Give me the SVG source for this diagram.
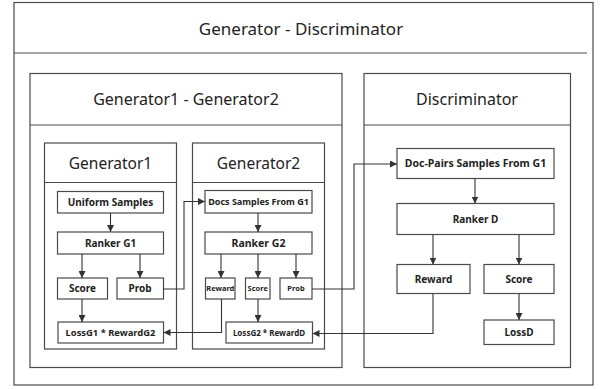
<svg xmlns="http://www.w3.org/2000/svg" width="602" height="389" viewBox="0 0 602 389">
<style>
.box{fill:#fff;stroke:#4a4a4a;stroke-width:1.2}
.ln{fill:none;stroke:#4a4a4a;stroke-width:1.2}
.con{fill:none;stroke:#333;stroke-width:1.1}
.h1{font-family:"Noto Sans","Open Sans",sans-serif;font-size:17px;fill:#222;text-anchor:middle}
.h2{font-family:"Noto Sans","Open Sans",sans-serif;font-size:16px;fill:#222;text-anchor:middle}
.h3{font-family:"Noto Sans","Open Sans",sans-serif;font-size:15.5px;fill:#222;text-anchor:middle}
.t{font-family:"Noto Sans","Open Sans",sans-serif;font-weight:bold;font-size:10px;fill:#222;text-anchor:middle}
.s{font-family:"Noto Sans","Open Sans",sans-serif;font-weight:bold;font-size:7.5px;fill:#222;text-anchor:middle}
</style>
<defs>
<marker id="ah" viewBox="0 0 10 10" refX="10" refY="5" markerWidth="7" markerHeight="7" markerUnits="userSpaceOnUse" orient="auto">
<path d="M0,0 L10,5 L0,10 z" fill="#333"/>
</marker>
</defs>
<rect width="602" height="389" fill="#fff"/>

<g id="outer">
<rect class="box" x="14" y="2.5" width="579" height="382.5"/>
<line class="ln" x1="14" y1="53" x2="587" y2="53"/>
<text class="h1" x="301" y="35">Generator - Discriminator</text>
</g>

<g id="g1g2">
<rect class="box" x="30" y="73.5" width="312" height="294"/>
<line class="ln" x1="30" y1="125" x2="342" y2="125"/>
<text class="h2" x="186" y="105">Generator1 - Generator2</text>
</g>

<g id="disc">
<rect class="box" x="364" y="73.5" width="206.5" height="294"/>
<line class="ln" x1="364" y1="125" x2="570.5" y2="125"/>
<text class="h2" x="467" y="105">Discriminator</text>
</g>

<g id="gen1">
<rect class="box" x="44.5" y="143" width="132" height="206"/>
<line class="ln" x1="44.5" y1="182.5" x2="176.5" y2="182.5"/>
<text class="h3" x="110.5" y="168.5">Generator1</text>
</g>

<g id="gen2">
<rect class="box" x="192.5" y="143" width="132" height="206"/>
<line class="ln" x1="192.5" y1="182.5" x2="324.5" y2="182.5"/>
<text class="h3" x="258.5" y="168.5">Generator2</text>
</g>

<g id="uniform">
<rect class="box" x="57.5" y="191.5" width="106" height="21.5"/>
<text class="t" x="110.5" y="206">Uniform Samples</text>
</g>
<g id="rankerg1">
<rect class="box" x="57.5" y="232" width="106" height="22"/>
<text class="t" x="110.5" y="246.5">Ranker G1</text>
</g>
<g id="scoreg1">
<rect class="box" x="57.5" y="278" width="50" height="21"/>
<text class="t" x="82.5" y="292">Score</text>
</g>
<g id="probg1">
<rect class="box" x="117" y="278" width="46.5" height="21"/>
<text class="t" x="140" y="292">Prob</text>
</g>
<g id="lossg1">
<rect class="box" x="58" y="322" width="105.5" height="21"/>
<text class="t" x="110.5" y="336" style="font-size:9.4px">LossG1 * RewardG2</text>
</g>

<g id="docs">
<rect class="box" x="205" y="190.5" width="107" height="22.5"/>
<text class="t" x="258.5" y="205" style="font-size:9px">Docs Samples From G1</text>
</g>
<g id="rankerg2">
<rect class="box" x="205" y="232" width="107" height="22"/>
<text class="t" x="258.5" y="247" style="font-size:10.5px">Ranker G2</text>
</g>
<g id="rewardg2">
<rect class="box" x="205.5" y="278" width="29.5" height="21"/>
<text class="s" x="220.3" y="291">Reward</text>
</g>
<g id="scoreg2">
<rect class="box" x="245.5" y="278" width="24.5" height="21"/>
<text class="s" x="257.8" y="291">Score</text>
</g>
<g id="probg2">
<rect class="box" x="280" y="278" width="32" height="21"/>
<text class="s" x="296" y="291">Prob</text>
</g>
<g id="lossg2">
<rect class="box" x="226" y="322" width="86.5" height="21"/>
<text class="s" x="269" y="335.5" style="font-size:8px">LossG2 * RewardD</text>
</g>

<g id="docpairs">
<rect class="box" x="397" y="148.5" width="157" height="30"/>
<text class="t" x="475.5" y="167" style="font-size:10.5px">Doc-Pairs Samples From G1</text>
</g>
<g id="rankerd">
<rect class="box" x="397" y="203.5" width="157" height="31"/>
<text class="t" x="475.5" y="222.5">Ranker D</text>
</g>
<g id="rewardd">
<rect class="box" x="397" y="264.5" width="73" height="29"/>
<text class="t" x="433.5" y="282.5">Reward</text>
</g>
<g id="scored">
<rect class="box" x="484" y="264.5" width="70" height="29"/>
<text class="t" x="519" y="282.5">Score</text>
</g>
<g id="lossd">
<rect class="box" x="484" y="320" width="70" height="24.5"/>
<text class="t" x="519" y="336">LossD</text>
</g>

<g id="connectors">
<line class="con" x1="110.5" y1="213" x2="110.5" y2="232" marker-end="url(#ah)"/>
<line class="con" x1="82" y1="254" x2="82" y2="278" marker-end="url(#ah)"/>
<line class="con" x1="140" y1="254" x2="140" y2="278" marker-end="url(#ah)"/>
<line class="con" x1="82" y1="299" x2="82" y2="322" marker-end="url(#ah)"/>
<polyline class="con" points="163.5,289 184,289 184,201.5 205,201.5" marker-end="url(#ah)"/>

<line class="con" x1="258" y1="213" x2="258" y2="232" marker-end="url(#ah)"/>
<line class="con" x1="221" y1="254" x2="221" y2="278" marker-end="url(#ah)"/>
<line class="con" x1="258" y1="254" x2="258" y2="278" marker-end="url(#ah)"/>
<line class="con" x1="296" y1="254" x2="296" y2="278" marker-end="url(#ah)"/>
<line class="con" x1="258" y1="299" x2="258" y2="322" marker-end="url(#ah)"/>
<polyline class="con" points="221.5,299 221.5,332.5 163.5,332.5" marker-end="url(#ah)"/>
<polyline class="con" points="312,289 354,289 354,164 397,164" marker-end="url(#ah)"/>

<line class="con" x1="475" y1="178.5" x2="475" y2="203.5" marker-end="url(#ah)"/>
<line class="con" x1="433" y1="234.5" x2="433" y2="264.5" marker-end="url(#ah)"/>
<line class="con" x1="519" y1="234.5" x2="519" y2="264.5" marker-end="url(#ah)"/>
<line class="con" x1="519" y1="293.5" x2="519" y2="320" marker-end="url(#ah)"/>
<polyline class="con" points="433,293.5 433,333.5 312.5,333.5" marker-end="url(#ah)"/>
</g>
</svg>
